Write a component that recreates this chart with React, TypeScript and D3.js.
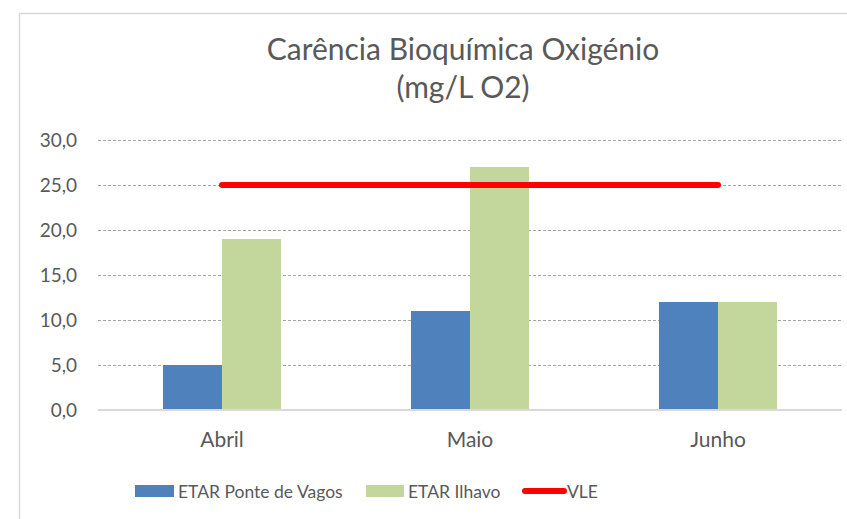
import React, { useRef, useEffect } from 'react';
import * as d3 from 'd3';

const months = ['Abril', 'Maio', 'Junho'];
const pontesVagos = [5, 11, 12];
const ilhavo = [19, 27, 12];
const vle = [25, 25, 25];
const yTicks = [0, 5, 10, 15, 20, 25, 30];
const seriesNames = ['ETAR Ponte de Vagos', 'ETAR Ilhavo', 'VLE'];

const W = 847;
const H = 519;
const FONT = 'Lato, "Open Sans", sans-serif';
const TEXT = '#595959';

const App = () => {
  const svgRef = useRef<SVGSVGElement>(null);

  useEffect(() => {
    const svg = d3.select(svgRef.current);
    svg.selectAll('*').remove();

    const margin = { top: 140, right: 5, bottom: 109, left: 98 };
    const innerWidth = W - margin.left - margin.right;
    const innerHeight = H - margin.top - margin.bottom;

    // chart frame
    svg.append('rect')
      .attr('x', 19.5).attr('y', 13.5)
      .attr('width', 900).attr('height', 600)
      .attr('fill', '#fff')
      .attr('stroke', '#d9d9d9')
      .attr('stroke-width', 1.5);

    // title
    const title = svg.append('text')
      .attr('text-anchor', 'middle')
      .attr('font-family', FONT)
      .attr('font-size', 30)
      .attr('fill', TEXT);
    title.append('tspan').attr('x', 463).attr('y', 60).text('Carência Bioquímica Oxigénio');
    title.append('tspan').attr('x', 463).attr('y', 98).text('(mg/L O2)');

    const x0 = d3.scaleBand().domain(months).range([0, innerWidth]).padding(0);
    const bw = 59;
    const y = d3.scaleLinear().domain([0, 30]).range([innerHeight, 0]);

    const g = svg.append('g').attr('transform', `translate(${margin.left},${margin.top})`);

    // grid
    g.selectAll('.grid')
      .data(yTicks.filter(d => d > 0))
      .join('line')
      .attr('x1', 0).attr('x2', innerWidth)
      .attr('y1', d => y(d) + 0.5).attr('y2', d => y(d) + 0.5)
      .attr('stroke', '#a6a6a6')
      .attr('stroke-dasharray', '3,2');

    // y labels
    g.selectAll('.ylab')
      .data(yTicks)
      .join('text')
      .attr('x', -21)
      .attr('y', d => y(d))
      .attr('dy', '0.36em')
      .attr('text-anchor', 'end')
      .attr('font-family', FONT)
      .attr('font-size', 19)
      .attr('fill', TEXT)
      .text(d => d3.format('.1f')(d).replace('.', ','));

    // bars
    const center = (m: string) => (x0(m) as number) + x0.bandwidth() / 2;
    g.selectAll('.b1')
      .data(months)
      .join('rect')
      .attr('x', d => center(d) - bw)
      .attr('y', (d, i) => y(pontesVagos[i]))
      .attr('width', bw)
      .attr('height', (d, i) => innerHeight - y(pontesVagos[i]))
      .attr('fill', '#4f81bd');
    g.selectAll('.b2')
      .data(months)
      .join('rect')
      .attr('x', d => center(d))
      .attr('y', (d, i) => y(ilhavo[i]))
      .attr('width', bw)
      .attr('height', (d, i) => innerHeight - y(ilhavo[i]))
      .attr('fill', '#c3d69b');

    // x axis line
    g.append('line')
      .attr('x1', 0).attr('x2', innerWidth)
      .attr('y1', innerHeight).attr('y2', innerHeight)
      .attr('stroke', '#d9d9d9')
      .attr('stroke-width', 2);

    // x labels
    g.selectAll('.xlab')
      .data(months)
      .join('text')
      .attr('x', d => center(d))
      .attr('y', innerHeight + 37)
      .attr('text-anchor', 'middle')
      .attr('font-family', FONT)
      .attr('font-size', 21)
      .attr('fill', TEXT)
      .text(d => d);

    // VLE line
    const line = d3.line<number>()
      .x((d, i) => center(months[i]))
      .y(d => y(d));
    g.append('path')
      .attr('d', line(vle))
      .attr('fill', 'none')
      .attr('stroke', '#ff0000')
      .attr('stroke-width', 6)
      .attr('stroke-linecap', 'round');

    // legend
    const lg = svg.append('g').attr('font-family', FONT).attr('font-size', 17.5).attr('fill', TEXT);
    lg.append('rect').attr('x', 135).attr('y', 485).attr('width', 39).attr('height', 12).attr('fill', '#4f81bd');
    lg.append('text').attr('x', 178).attr('y', 498).text(seriesNames[0]);
    lg.append('rect').attr('x', 366).attr('y', 485).attr('width', 38).attr('height', 12).attr('fill', '#c3d69b');
    lg.append('text').attr('x', 408).attr('y', 498).text(seriesNames[1]);
    lg.append('line').attr('x1', 525).attr('x2', 564).attr('y1', 491).attr('y2', 491)
      .attr('stroke', '#ff0000').attr('stroke-width', 6).attr('stroke-linecap', 'round');
    lg.append('text').attr('x', 567).attr('y', 498).text(seriesNames[2]);
  }, []);

  return (
    <svg ref={svgRef} width={W} height={H} style={{ position: 'absolute', left: 0, top: 0, display: 'block' }} />
  );
};

export default App;
